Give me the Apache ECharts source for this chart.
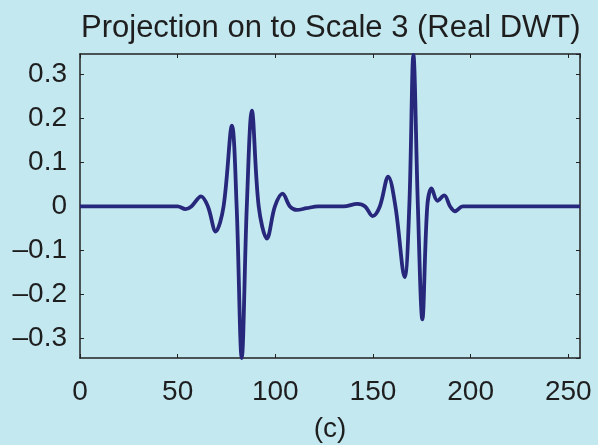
<!DOCTYPE html>
<html>
<head>
<meta charset="utf-8">
<script src="https://cdn.jsdelivr.net/npm/echarts@6/dist/echarts.min.js"></script>
<style>
  html, body { margin: 0; padding: 0; background: #c3e8f0; }
  #main { width: 598px; height: 445px; }
</style>
</head>
<body>
<div id="main"></div>
<script>
// sample positions and values (extrema and zero crossings)
var sampleX = [0, 50, 54, 57, 62, 65.5, 69.5, 73.5, 77.8, 80.2, 82.8, 85.4, 88, 91.5, 95.7, 99.8, 103.7, 107.5, 111, 116, 122,
    135, 142, 146, 149.8, 153.5, 157.8, 161.5, 166.2, 168.6, 170.7, 173, 175.3, 177.8, 180, 183, 186.5, 189.5, 191.9, 196, 256];
var sampleY = [0, 0, -0.006, 0, 0.023, 0, -0.057, 0, 0.184, 0, -0.345, 0, 0.218, 0, -0.073, 0, 0.029, 0, -0.008, -0.004, 0,
    0, 0.006, 0, -0.022, 0, 0.068, 0, -0.161, 0, 0.345, 0, -0.257, 0, 0.041, 0.013, 0.025, 0, -0.011, 0, 0];
var xTicks = [0, 50, 100, 150, 200, 250];
var yTicks = [-0.3, -0.2, -0.1, 0, 0.1, 0.2, 0.3];

var titleText = 'Projection on to Scale 3 (Real DWT)';
var bottomLabel = '(c)';

function fmtY(v) {
    var r = Math.round(v * 10) / 10;
    if (yTicks.indexOf(r) < 0 || Math.abs(v - r) > 1e-6) return '';
    return r < 0 ? '\u2013' + String(-r) : String(r);
}

function fmtX(v) {
    return xTicks.indexOf(v) >= 0 ? String(v) : '';
}

var lineData = [];
for (var i = 0; i < sampleX.length; i = i + 1) {
    lineData.push([sampleX[i], sampleY[i]]);
}

var axisColor = '#222';
var font = 'Liberation Sans';

var myChart = echarts.init(document.getElementById('main'));

var option = {
    backgroundColor: '#c3e8f0',
    animation: false,
    title: {
        text: titleText,
        left: 76,
        top: 8,
        textStyle: { fontFamily: font, fontSize: 31, fontWeight: 'normal', color: '#1e1e1e' }
    },
    grid: { left: 80, right: 18, top: 54, bottom: 87, show: false, outerBoundsMode: 'none', containLabel: false },
    xAxis: [
        {
            type: 'value', min: 0, max: 256, interval: 50, position: 'bottom',
            name: bottomLabel, nameLocation: 'middle', nameGap: 57,
            nameTextStyle: { fontFamily: font, fontSize: 28, color: '#1e1e1e' },
            axisLine: { show: true, onZero: false, lineStyle: { color: axisColor, width: 1.5 } },
            axisTick: { show: true, inside: true, length: 4, lineStyle: { color: axisColor } },
            axisLabel: { formatter: fmtX, showMaxLabel: false, margin: 20, fontFamily: font, fontSize: 28, color: '#1e1e1e' },
            splitLine: { show: false }
        },
        {
            type: 'value', min: 0, max: 256, interval: 50, position: 'top',
            axisLine: { show: true, onZero: false, lineStyle: { color: axisColor, width: 1.5 } },
            axisTick: { show: true, inside: true, length: 4, lineStyle: { color: axisColor } },
            axisLabel: { show: false },
            splitLine: { show: false }
        }
    ],
    yAxis: [
        {
            type: 'value', min: -0.345, max: 0.347, splitNumber: 7, position: 'left',
            axisLine: { show: true, onZero: false, lineStyle: { color: axisColor, width: 1.5 } },
            axisTick: { show: true, inside: true, length: 4, lineStyle: { color: axisColor } },
            axisLabel: { formatter: fmtY, showMinLabel: false, showMaxLabel: false, margin: 13, fontFamily: font, fontSize: 28, color: '#1e1e1e' },
            splitLine: { show: false }
        },
        {
            type: 'value', min: -0.345, max: 0.347, splitNumber: 7, position: 'right',
            axisLine: { show: true, onZero: false, lineStyle: { color: axisColor, width: 1.5 } },
            axisTick: { show: true, inside: true, length: 4, lineStyle: { color: axisColor } },
            axisLabel: { show: false },
            splitLine: { show: false }
        }
    ],
    series: [
        {
            type: 'line',
            data: lineData,
            smooth: 0.35,
            showSymbol: false,
            lineStyle: { color: '#27277c', width: 3.8 }
        }
    ]
};

myChart.setOption(option);
</script>
</body>
</html>
